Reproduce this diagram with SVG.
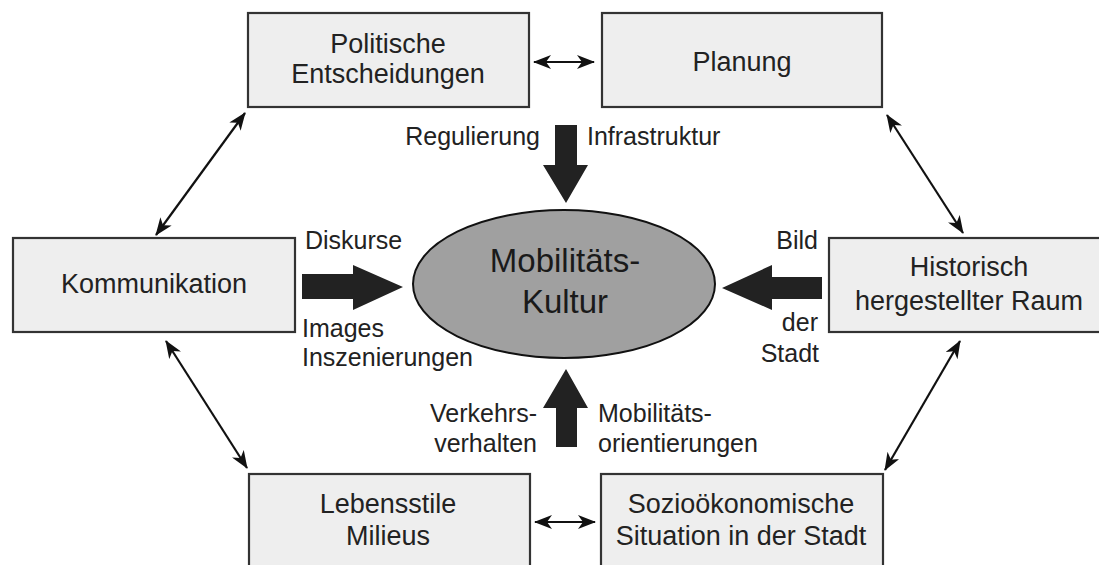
<svg xmlns="http://www.w3.org/2000/svg" width="1099" height="565" viewBox="0 0 1099 565">
<style>
.box{fill:#eeeeee;stroke:#333333;stroke-width:2.2}
.t{font-family:"Liberation Sans",Arial,sans-serif;font-size:27px;fill:#222222;text-anchor:middle}
.l{font-family:"Liberation Sans",Arial,sans-serif;font-size:25px;fill:#222222}
.c{stroke:#111111;stroke-width:2.2;fill:none;marker-start:url(#ah);marker-end:url(#ah)}
.big{fill:#222222}
</style>
<defs>
<marker id="ah" viewBox="0 0 18 14" refX="17" refY="7" markerWidth="18" markerHeight="14" markerUnits="userSpaceOnUse" orient="auto-start-reverse">
<path d="M0,0 L18,7 L0,14 L5,7 z" fill="#111111"/>
</marker>
</defs>
<rect width="1099" height="565" fill="#ffffff"/>
<g id="politische">
<rect class="box" x="248" y="13" width="281" height="94"/>
<text class="t" x="388" y="53">Politische</text>
<text class="t" x="388" y="83">Entscheidungen</text>
</g>
<g id="planung">
<rect class="box" x="602" y="13" width="280" height="94"/>
<text class="t" x="742" y="71">Planung</text>
</g>
<g id="kommunikation">
<rect class="box" x="13" y="238" width="282" height="94"/>
<text class="t" x="154" y="293">Kommunikation</text>
</g>
<g id="historisch">
<rect class="box" x="829" y="238" width="280" height="94"/>
<text class="t" x="969" y="276">Historisch</text>
<text class="t" x="969" y="310">hergestellter Raum</text>
</g>
<g id="lebensstile">
<rect class="box" x="249" y="474" width="281" height="100"/>
<text class="t" x="388" y="513">Lebensstile</text>
<text class="t" x="388" y="545">Milieus</text>
</g>
<g id="sozio">
<rect class="box" x="601" y="474" width="282" height="100"/>
<text class="t" x="741" y="513">Sozioökonomische</text>
<text class="t" x="741" y="545">Situation in der Stadt</text>
</g>
<g id="mobilitaetskultur">
<ellipse cx="564" cy="284" rx="151" ry="74" fill="#a0a0a0" stroke="#111111" stroke-width="2"/>
<text x="565" y="272" font-family="Liberation Sans, Arial, sans-serif" font-size="33" fill="#1a1a1a" text-anchor="middle">Mobilitäts-</text>
<text x="565" y="313" font-family="Liberation Sans, Arial, sans-serif" font-size="33" fill="#1a1a1a" text-anchor="middle">Kultur</text>
</g>
<g id="connectors">
<line class="c" x1="534" y1="62" x2="594" y2="62"/>
<line class="c" x1="535" y1="522" x2="595" y2="522"/>
<line class="c" x1="245" y1="113" x2="156" y2="235"/>
<line class="c" x1="887" y1="115" x2="963" y2="233"/>
<line class="c" x1="166" y1="341" x2="247" y2="468"/>
<line class="c" x1="960" y1="341" x2="885" y2="470"/>
<polygon class="big" points="555,125 577,125 577,165 588,165 566,203 543,165 555,165"/>
<polygon class="big" points="302,274 353,274 353,265 403,287 353,310 353,299 302,299"/>
<polygon class="big" points="822,277 772,277 772,265 722,288 772,310 772,299 822,299"/>
<polygon class="big" points="556,447 577,447 577,408 588,408 566,369 543,408 556,408"/>
</g>
<g id="labels">
<text class="l" x="540" y="145" text-anchor="end">Regulierung</text>
<text class="l" x="587" y="145">Infrastruktur</text>
<text class="l" x="305" y="249">Diskurse</text>
<text class="l" x="302" y="337">Images</text>
<text class="l" x="302" y="366">Inszenierungen</text>
<text class="l" x="818" y="249" text-anchor="end">Bild</text>
<text class="l" x="818" y="331" text-anchor="end">der</text>
<text class="l" x="819" y="362" text-anchor="end">Stadt</text>
<text class="l" x="537" y="422" text-anchor="end">Verkehrs-</text>
<text class="l" x="537" y="452" text-anchor="end">verhalten</text>
<text class="l" x="598" y="422">Mobilitäts-</text>
<text class="l" x="598" y="452">orientierungen</text>
</g>
</svg>
